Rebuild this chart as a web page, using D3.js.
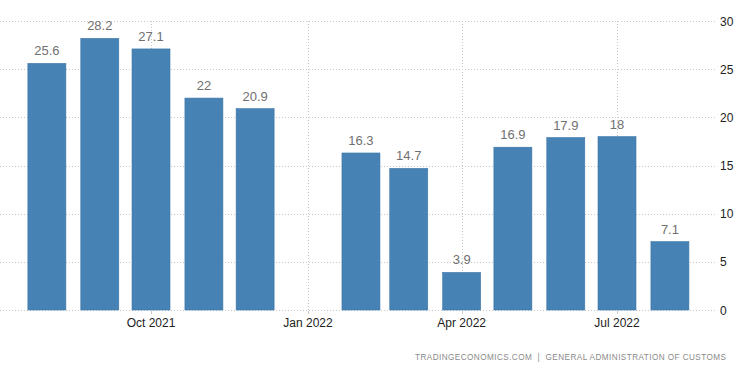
<!DOCTYPE html>
<html><head><meta charset="utf-8">
<script src="https://cdn.jsdelivr.net/npm/d3@7"></script>
<style>html,body{margin:0;padding:0;background:#fff;}svg{display:block;}</style>
</head><body>
<svg id="c" width="750" height="373"></svg>
<script>
const months = ["2021-08","2021-09","2021-10","2021-11","2021-12","2022-01","2022-02","2022-03","2022-04","2022-05","2022-06","2022-07","2022-08"];
const values = [25.6, 28.2, 27.1, 22, 20.9, null, 16.3, 14.7, 3.9, 16.9, 17.9, 18, 7.1];
const valueLabels = ["25.6","28.2","27.1","22","20.9",null,"16.3","14.7","3.9","16.9","17.9","18","7.1"];
const xTicks = ["2021-10","2022-01","2022-04","2022-07"];
const xTickLabels = ["Oct 2021","Jan 2022","Apr 2022","Jul 2022"];
const yTicks = [0,5,10,15,20,25,30];
const source = "TRADINGECONOMICS.COM  |  GENERAL ADMINISTRATION OF CUSTOMS";

const parse = d3.timeParse("%Y-%m");
const svg = d3.select("#c");
const plotLeft = 0, plotRight = 717, plotTop = 21, plotBottom = 310;
const x = d3.scaleTime().domain([parse("2021-10"), parse("2022-07")]).range([151, 617]);
const y = d3.scaleLinear().domain([0, 30]).range([plotBottom, plotTop]);
const barW = 38;
const font = "'Liberation Sans', Arial, sans-serif";

// horizontal grid
svg.append("g").selectAll("line").data(yTicks).join("line")
  .attr("x1", plotLeft).attr("x2", plotRight)
  .attr("y1", d => Math.round(y(d)) + 0.5).attr("y2", d => Math.round(y(d)) + 0.5)
  .attr("stroke", "#c8c8c8").attr("stroke-width", 1).attr("stroke-dasharray", "1,2");
// vertical grid
svg.append("g").selectAll("line").data(xTicks).join("line")
  .attr("x1", d => Math.round(x(parse(d))) + 0.5).attr("x2", d => Math.round(x(parse(d))) + 0.5)
  .attr("y1", plotTop).attr("y2", plotBottom)
  .attr("stroke", "#c8c8c8").attr("stroke-width", 1).attr("stroke-dasharray", "1,2");

// bars
const data = months.map((m, i) => ({d: parse(m), v: values[i], l: valueLabels[i]})).filter(o => o.v != null);
svg.append("g").selectAll("rect").data(data).join("rect")
  .attr("x", o => x(o.d) - barW / 2).attr("width", barW)
  .attr("y", o => y(o.v)).attr("height", o => y(0) - y(o.v))
  .attr("fill", "#4682b4").attr("stroke", "#3f77a8").attr("stroke-width", 0.6);

// value labels
svg.append("g").selectAll("text").data(data).join("text")
  .attr("x", o => x(o.d)).attr("y", o => y(o.v) - 8)
  .attr("text-anchor", "middle").attr("font-family", font).attr("font-size", "13px")
  .attr("fill", "#707070").text(o => o.l);

// x axis ticks & labels
svg.append("g").selectAll("line").data(xTicks).join("line")
  .attr("x1", d => Math.round(x(parse(d))) + 0.5).attr("x2", d => Math.round(x(parse(d))) + 0.5)
  .attr("y1", plotBottom + 1).attr("y2", plotBottom + 4).attr("stroke", "#c8c8c8");
svg.append("g").selectAll("text").data(xTicks).join("text")
  .attr("x", d => x(parse(d))).attr("y", 327)
  .attr("text-anchor", "middle").attr("font-family", font).attr("font-size", "12px")
  .attr("fill", "#222").text((d, i) => xTickLabels[i]);

// y axis labels
svg.append("g").selectAll("text").data(yTicks).join("text")
  .attr("x", 720).attr("y", d => y(d) + 4.5)
  .attr("text-anchor", "start").attr("font-family", font).attr("font-size", "12px")
  .attr("fill", "#222").text(d => d);

// source
svg.append("text").attr("x", 415).attr("y", 360)
  .attr("font-family", font).attr("font-size", "8.2px").attr("fill", "#8a8a8a")
  .style("white-space", "pre")
  .attr("textLength", 311).attr("lengthAdjust", "spacing").text(source);
</script>
</body></html>
